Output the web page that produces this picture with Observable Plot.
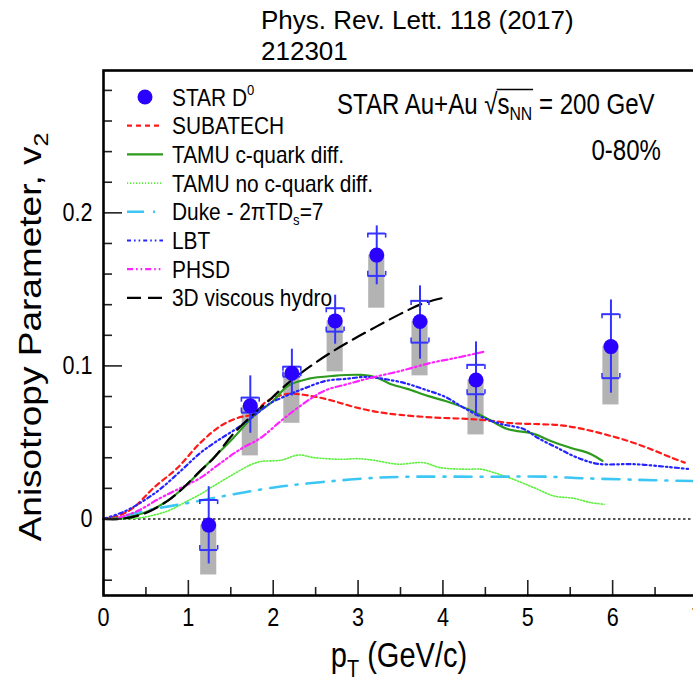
<!DOCTYPE html>
<html>
<head>
<meta charset="utf-8">
<script src="https://cdn.jsdelivr.net/npm/d3@7"></script>
<script src="https://cdn.jsdelivr.net/npm/@observablehq/plot@0.6"></script>
<style>
  html, body { margin: 0; padding: 0; background: #fff; }
  #wrap { position: relative; width: 693px; height: 685px; overflow: hidden; font-family: "Liberation Sans", Arial, sans-serif; }
  #title { position: absolute; left: 261px; top: 5px; font-size: 26px; line-height: 31px; color: #000; z-index: 2; }
  #chart { position: absolute; left: 0; top: 0; }
</style>
</head>
<body>
<div id="wrap">
  <div id="chart"></div>
  <div id="title">Phys. Rev. Lett. 118 (2017)<br>212301</div>
</div>
<script>
// ---------------- DATA ----------------
// STAR D0 v2 (0-80%)
const d0Pt      = [1.24, 1.73, 2.22, 2.73, 3.22, 3.73, 4.39, 5.98];
const d0V2      = [-0.004, 0.0739, 0.0952, 0.1294, 0.1724, 0.129, 0.0908, 0.1126];
const d0StatHi  = [0.0211, 0.0935, 0.1109, 0.1462, 0.1915, 0.1523, 0.1157, 0.1431];
const d0StatLo  = [-0.0294, 0.056, 0.0804, 0.1142, 0.153, 0.1044, 0.0669, 0.0822];
const d0SysHi   = [0.0124, 0.0793, 0.0995, 0.1377, 0.1865, 0.1425, 0.1007, 0.1338];
const d0SysLo   = [-0.0203, 0.0695, 0.093, 0.1224, 0.1588, 0.1152, 0.0815, 0.092];
const d0NonFlowLo = [-0.0366, 0.0412, 0.0625, 0.0961, 0.1377, 0.0935, 0.0549, 0.0745];

// Model curves
const subatechPt = [0, 0.2, 0.35, 0.59, 0.87, 1.14, 1.38, 1.58, 1.76, 1.93, 2.17, 2.44, 2.71, 2.95, 3.23, 3.5, 3.89, 4.28, 4.5, 4.83, 5.15, 5.39, 5.63, 5.9, 6.18, 6.45, 6.69, 6.85];
const subatechV2 = [0, 0.0026, 0.0072, 0.0203, 0.0333, 0.0497, 0.0608, 0.066, 0.0686, 0.0771, 0.0817, 0.0804, 0.0771, 0.0732, 0.0699, 0.068, 0.0663, 0.0654, 0.0645, 0.0625, 0.0619, 0.0612, 0.059, 0.0554, 0.051, 0.0456, 0.0401, 0.0368];

const tamuPt = [0, 0.08, 0.47, 0.755, 0.99, 1.26, 1.53, 1.77, 2.0, 2.17, 2.41, 2.71, 3.04, 3.23, 3.38, 3.58, 3.82, 4.03, 4.29, 4.53, 4.76, 5.07, 5.27, 5.51, 5.74, 5.88];
const tamuV2 = [0, 0, 0.0039, 0.0118, 0.0229, 0.0379, 0.0529, 0.0673, 0.0771, 0.0869, 0.0915, 0.0935, 0.0941, 0.0922, 0.0882, 0.085, 0.0804, 0.0771, 0.0719, 0.0654, 0.0588, 0.0556, 0.051, 0.0464, 0.0425, 0.0379];

const tamuNoDiffPt = [0, 0.2, 0.44, 0.755, 0.99, 1.14, 1.3, 1.53, 1.73, 1.85, 2.09, 2.3, 2.48, 2.79, 3.0, 3.18, 3.47, 3.77, 3.97, 4.29, 4.45, 4.6, 4.83, 5.07, 5.31, 5.54, 5.74, 5.9];
const tamuNoDiffV2 = [0, 0, 0.0008, 0.0052, 0.0118, 0.0161, 0.0216, 0.0292, 0.0353, 0.0375, 0.0384, 0.0418, 0.0401, 0.039, 0.0394, 0.0384, 0.0358, 0.0368, 0.0335, 0.0325, 0.0325, 0.0303, 0.0259, 0.0205, 0.015, 0.0135, 0.0107, 0.0096];

const dukePt = [0.25, 0.59, 0.91, 1.42, 1.7, 2.05, 2.32, 2.71, 3.11, 3.5, 4.5, 5.24, 5.63, 6.1, 6.49, 6.96];
const dukeV2 = [0.002, 0.0065, 0.0096, 0.015, 0.0178, 0.0209, 0.0227, 0.0248, 0.0266, 0.0275, 0.0276, 0.0276, 0.0266, 0.0259, 0.0253, 0.0248];

const lbtPt = [0, 0.26, 0.47, 0.67, 0.91, 1.14, 1.34, 1.58, 1.77, 1.97, 2.15, 2.32, 2.62, 2.85, 3.09, 3.3, 3.54, 3.8, 4.03, 4.25, 4.48, 4.68, 4.95, 5.12, 5.35, 5.59, 5.83, 6.25, 6.65, 6.92];
const lbtV2 = [0, 0.0052, 0.0118, 0.0196, 0.0314, 0.0431, 0.051, 0.0595, 0.0673, 0.0758, 0.0804, 0.0843, 0.0902, 0.0915, 0.0928, 0.0915, 0.0889, 0.0843, 0.0797, 0.0725, 0.066, 0.0621, 0.0588, 0.0529, 0.0464, 0.0399, 0.036, 0.0358, 0.034, 0.0325];

const phsdPt = [0.18, 0.4, 0.67, 0.91, 1.14, 1.38, 1.62, 1.85, 2.09, 2.32, 2.6, 2.88, 3.15, 3.5, 3.86, 4.15, 4.48];
const phsdV2 = [0.0007, 0.0052, 0.0137, 0.0203, 0.0268, 0.0366, 0.0458, 0.0529, 0.064, 0.0739, 0.0837, 0.0882, 0.0922, 0.0967, 0.102, 0.1052, 0.1092];

const hydroPt = [0, 0.2, 0.47, 0.755, 0.94, 1.14, 1.3, 1.53, 1.77, 1.97, 2.15, 2.41, 2.71, 2.95, 3.21, 3.5, 3.75, 4.0];
const hydroV2 = [0, 0, 0.0033, 0.0118, 0.0203, 0.0314, 0.0399, 0.0556, 0.0686, 0.0784, 0.0876, 0.0987, 0.1098, 0.1176, 0.1255, 0.134, 0.1405, 0.1444];

// Axis ticks / labels
const xMajorTicks = [0, 1, 2, 3, 4, 5, 6, 7];
const xMinorTicks = [0.5, 1.5, 2.5, 3.5, 4.5, 5.5, 6.5];
const yMajorTicks = [0, 0.1, 0.2];
const yMinorTicks = [-0.04, -0.02, 0.02, 0.04, 0.06, 0.08, 0.12, 0.14, 0.16, 0.18, 0.22, 0.24, 0.26, 0.28];
const yTickLabels = ["0", "0.1", "0.2"];

const legendNames = ["SUBATECH", "TAMU c-quark diff.", "TAMU no c-quark diff.", "Duke - 2πTD_s=7", "LBT", "PHSD", "3D viscous hydro"];

// ---------------- STYLES ----------------
const BLUE = "#2a00ff";
const ERR = "#3434ff";
const S = 0.83;           // horizontal text condensation
const SL = 0.87;          // legend text condensation
const FONT = "Liberation Sans, Arial, Helvetica, sans-serif";
const W = 693, H = 685, ML = 103, MR = -4, MT = 70, MB = 90;
const FW = W - ML - MR, FH = H - MT - MB;

const models = [
  {pt: subatechPt,   v2: subatechV2,   stroke: "#ff1a1a", dash: "5,4",               width: 2.2},
  {pt: tamuPt,       v2: tamuV2,       stroke: "#2e9a1e", dash: null,                width: 2.2},
  {pt: tamuNoDiffPt, v2: tamuNoDiffV2, stroke: "#5cf03c", dash: "1.2,1.8",           width: 1.6},
  {pt: dukePt,       v2: dukeV2,       stroke: "#3cc6f4", dash: "17,9,2,9",          width: 2.6},
  {pt: lbtPt,        v2: lbtV2,        stroke: "#2424ff", dash: "4,3,1.6,3,1.6,3",   width: 2.2},
  {pt: phsdPt,       v2: phsdV2,       stroke: "#ff22ff", dash: "6,3,1.6,3,1.6,3",   width: 2.2},
  {pt: hydroPt,      v2: hydroV2,      stroke: "#000000", dash: "14,7",              width: 2.2}
];

const d0 = d0Pt.map((pt, i) => ({
  pt, v2: d0V2[i], statHi: d0StatHi[i], statLo: d0StatLo[i],
  sysHi: d0SysHi[i], sysLo: d0SysLo[i], nfLo: d0NonFlowLo[i]
}));

const boxHalf = 0.095, capHalf = 0.105, capLen = 0.003;

const curveMarks = models.map(m => Plot.line(
  m.pt.map((x, i) => ({x, y: m.v2[i]})),
  {x: "x", y: "y", stroke: m.stroke, strokeWidth: m.width, strokeDasharray: m.dash, curve: "catmull-rom"}
));

const tickStyle = {stroke: "#222", strokeWidth: 1.6};

const plot = Plot.plot({
  width: W,
  height: H,
  marginLeft: ML,
  marginRight: MR,
  marginTop: MT,
  marginBottom: MB,
  x: {domain: [0, 7]},
  y: {domain: [-0.05, 0.293]},
  style: {fontFamily: FONT, background: "transparent", color: "#000", overflow: "hidden"},
  marks: [
    // non-flow grey boxes
    Plot.rect(d0, {x1: d => d.pt - boxHalf, x2: d => d.pt + boxHalf, y1: "nfLo", y2: "v2", fill: "#b3b3b3"}),
    // zero line
    Plot.ruleY([0], {stroke: "#555", strokeWidth: 2, strokeDasharray: "2.5,2.5"}),
    ...curveMarks,
    // stat errors
    Plot.ruleX(d0, {x: "pt", y1: "statLo", y2: "statHi", stroke: ERR, strokeWidth: 2}),
    // systematic brackets
    Plot.ruleY(d0, {y: "sysHi", x1: d => d.pt - capHalf, x2: d => d.pt + capHalf, stroke: ERR, strokeWidth: 2}),
    Plot.ruleY(d0, {y: "sysLo", x1: d => d.pt - capHalf, x2: d => d.pt + capHalf, stroke: ERR, strokeWidth: 2}),
    Plot.ruleX(d0, {x: d => d.pt - capHalf, y1: "sysHi", y2: d => d.sysHi - capLen, stroke: ERR, strokeWidth: 1.6}),
    Plot.ruleX(d0, {x: d => d.pt + capHalf, y1: "sysHi", y2: d => d.sysHi - capLen, stroke: ERR, strokeWidth: 1.6}),
    Plot.ruleX(d0, {x: d => d.pt - capHalf, y1: "sysLo", y2: d => d.sysLo + capLen, stroke: ERR, strokeWidth: 1.6}),
    Plot.ruleX(d0, {x: d => d.pt + capHalf, y1: "sysLo", y2: d => d.sysLo + capLen, stroke: ERR, strokeWidth: 1.6}),
    // markers
    Plot.dot(d0, {x: "pt", y: "v2", r: 7.5, fill: BLUE, stroke: "none"}),
    // axis tick marks (inward, ROOT style)
    Plot.tickX(xMajorTicks, {x: d => d, insetTop: FH - 15, ...tickStyle}),
    Plot.tickX(xMinorTicks, {x: d => d, insetTop: FH - 8, ...tickStyle}),
    Plot.tickY(yMajorTicks, {y: d => d, insetRight: FW - 19, ...tickStyle}),
    Plot.tickY(yMinorTicks, {y: d => d, insetRight: FW - 9, ...tickStyle}),
    // axis labels
    Plot.axisX(xMajorTicks, {tickSize: 0, tickPadding: 12, fontSize: 26, label: null, tickFormat: d => String(d)}),
    Plot.axisY(yMajorTicks, {tickSize: 0, tickPadding: 11, fontSize: 26, label: null, tickFormat: (d, i) => yTickLabels[i]}),
    Plot.frame({stroke: "#000", strokeWidth: 2.6})
  ]
});

document.getElementById("chart").appendChild(plot);

// condense Plot's tick labels horizontally (wrap each in a scaling group)
const SVGNS = "http://www.w3.org/2000/svg";
Array.from(plot.querySelectorAll("text")).forEach(t => {
  const b = t.getBBox();
  const anchor = getComputedStyle(t).textAnchor;
  const tl = t.transform.baseVal.consolidate();
  const a = tl ? tl.matrix.a : 1, e = tl ? tl.matrix.e : 0;
  const ax = anchor === "end" ? b.x + b.width : anchor === "middle" ? b.x + b.width / 2 : b.x;
  const px = e + a * ax;
  const g = document.createElementNS(SVGNS, "g");
  g.setAttribute("transform", `translate(${px},0) scale(${S},1) translate(${-px},0)`);
  t.parentNode.insertBefore(g, t);
  g.appendChild(t);
});

// ---------------- ANNOTATIONS / LEGEND ----------------
const svg = d3.select(plot);
const ann = svg.append("g").attr("font-family", FONT).attr("fill", "#000").attr("text-anchor", "start");

function condensed(x, y, s = S) {
  return ann.append("g").attr("transform", `translate(${x},${y}) scale(${s},1)`);
}

// Y axis title (rotated)
{
  const g = ann.append("g").attr("transform", `translate(41,337) rotate(-90) scale(1,${S})`);
  const t = g.append("text").attr("text-anchor", "middle").attr("font-size", 37);
  t.append("tspan").text("Anisotropy Parameter, v");
  t.append("tspan").attr("font-size", 25).attr("dy", 9).text("2");
}
// X axis title
{
  const g = condensed(399, 667);
  const t = g.append("text").attr("text-anchor", "middle").attr("font-size", 35);
  t.append("tspan").text("p");
  t.append("tspan").attr("font-size", 24).attr("dy", 10).text("T");
  t.append("tspan").attr("dy", -10).text(" (GeV/c)");
}
// Collision system text
{
  const g = condensed(337, 114);
  const t = g.append("text").attr("text-anchor", "start").attr("font-size", 29);
  t.append("tspan").text("STAR Au+Au ");
  t.append("tspan").text("√");
  t.append("tspan").text("s");
  t.append("tspan").attr("font-size", 19).attr("dy", 6).text("NN");
  t.append("tspan").attr("dy", -6).text(" = 200 GeV");
  const node = t.node();
  const a = node.getEndPositionOfChar(11).x;
  const b = node.getEndPositionOfChar(14).x;
  g.append("line").attr("x1", a - 1).attr("x2", b + 1).attr("y1", -24.5).attr("y2", -24.5)
    .attr("stroke", "#000").attr("stroke-width", 1.3);
}
{
  const g = condensed(661, 160);
  g.append("text").attr("text-anchor", "end").attr("font-size", 29).text("0-80%");
}

// Legend
const legX0 = 127, legX1 = 163, legText = 172, legY0 = 97, legDy = 28.7;
ann.append("circle").attr("cx", 145).attr("cy", legY0).attr("r", 7.5).attr("fill", BLUE);
{
  const g = condensed(legText, legY0 + 8.5, SL);
  const t = g.append("text").attr("text-anchor", "start").attr("font-size", 24);
  t.append("tspan").text("STAR D");
  t.append("tspan").attr("font-size", 15).attr("dy", -11).text("0");
}
models.forEach((m, i) => {
  const y = legY0 + legDy * (i + 1);
  ann.append("line").attr("x1", legX0).attr("x2", legX1).attr("y1", y).attr("y2", y)
    .attr("stroke", m.stroke).attr("stroke-width", m.width)
    .attr("stroke-dasharray", m.dash);
  const g = condensed(legText, y + 8.5, SL);
  const t = g.append("text").attr("text-anchor", "start").attr("font-size", 24);
  const name = legendNames[i];
  if (name.includes("_")) {
    const [pre, rest] = name.split("_");
    t.append("tspan").text(pre);
    t.append("tspan").attr("font-size", 15).attr("dy", 5).text(rest[0]);
    t.append("tspan").attr("dy", -5).text(rest.slice(1));
  } else {
    t.text(name);
  }
});
</script>
</body>
</html>
